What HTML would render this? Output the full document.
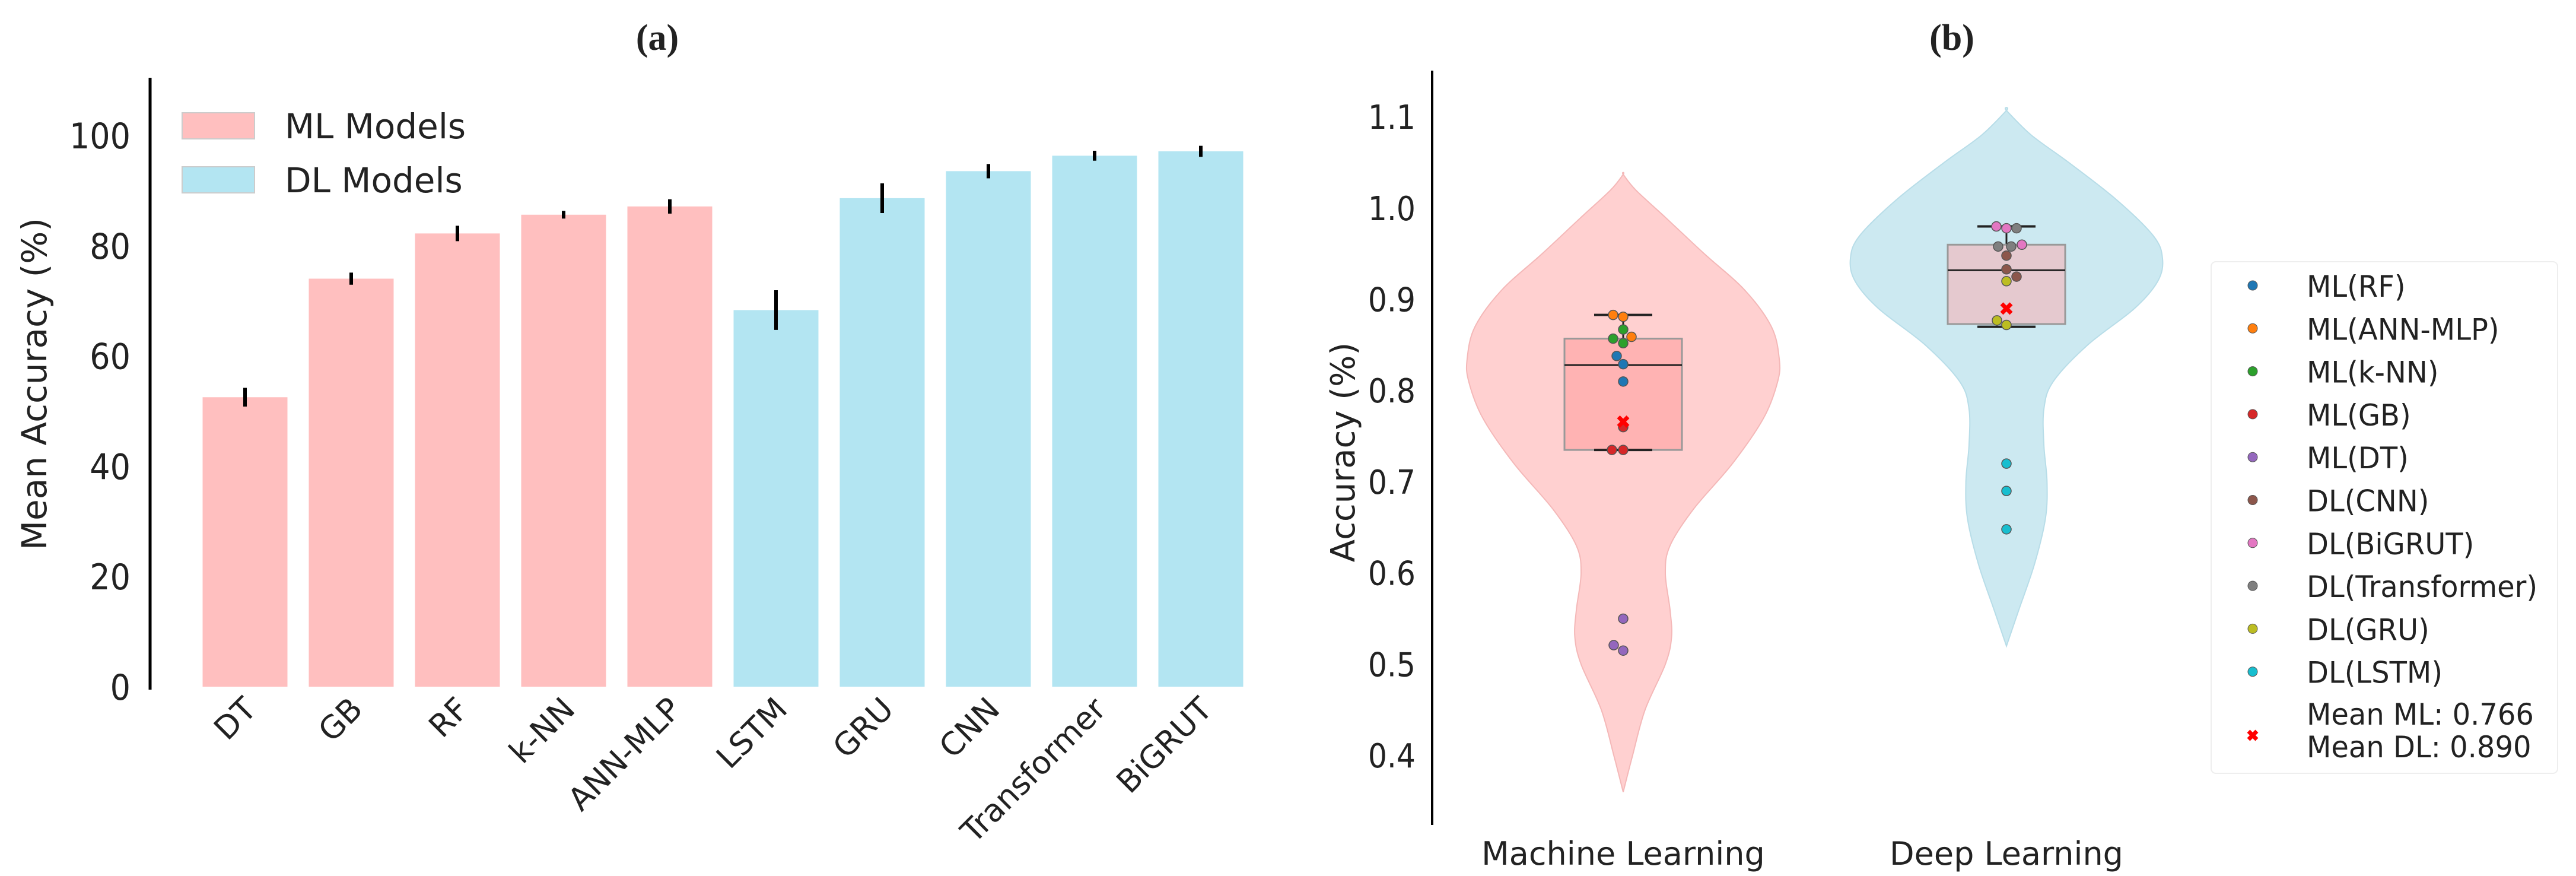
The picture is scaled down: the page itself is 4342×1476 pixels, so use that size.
<!DOCTYPE html>
<html><head><meta charset="utf-8"><style>
html,body{margin:0;padding:0;background:#fff}
svg{display:block}
text{font-family:"DejaVu Sans","Liberation Sans",sans-serif;fill:#222}
</style></head><body>
<svg id="fig" width="4342" height="1476" viewBox="0 0 4342 1476" xmlns="http://www.w3.org/2000/svg">
<g id="pa"></g>
<g id="pb"></g>
</svg>
<script>
// ---- Panel (a) data ----
const barCats=["DT","GB","RF","k-NN","ANN-MLP","LSTM","GRU","CNN","Transformer","BiGRUT"];
const barVals=[52.5,74,82.2,85.6,87.1,68.3,88.6,93.5,96.3,97.1];
const barErrs=[1.7,1.1,1.4,0.7,1.3,3.6,2.7,1.3,0.9,1.0];
const barGroup=["ML","ML","ML","ML","ML","DL","DL","DL","DL","DL"];
const aTicks=[0,20,40,60,80,100];
// ---- Panel (b) data ----
const vGroups=["Machine Learning","Deep Learning"];
const vMeans=[0.766,0.890];
const boxQ1=[0.735,0.873], boxQ3=[0.857,0.960], boxMed=[0.828,0.932];
const whiskLo=[0.735,0.870], whiskHi=[0.883,0.980];
const bTicks=[0.4,0.5,0.6,0.7,0.8,0.9,1.0,1.1];
// violin profiles: [value, relative half-width]
const violinML=[[0.36,0],[0.40,0.06],[0.45,0.14],[0.50,0.27],[0.53,0.31],[0.56,0.30],[0.60,0.27],[0.63,0.3],[0.67,0.45],[0.72,0.7],[0.77,0.9],[0.81,0.99],[0.835,1.0],[0.87,0.95],[0.91,0.78],[0.95,0.52],[0.99,0.27],[1.02,0.08],[1.037,0]];
const violinDL=[[0.52,0],[0.56,0.08],[0.61,0.18],[0.66,0.25],[0.70,0.26],[0.74,0.24],[0.78,0.24],[0.81,0.3],[0.85,0.52],[0.89,0.82],[0.92,0.97],[0.945,1.0],[0.97,0.94],[1.01,0.7],[1.05,0.4],[1.08,0.16],[1.107,0]];
const ptSeries=["ML(RF)","ML(ANN-MLP)","ML(k-NN)","ML(GB)","ML(DT)","DL(CNN)","DL(BiGRUT)","DL(Transformer)","DL(GRU)","DL(LSTM)"];
const ptColors=["#1f77b4","#ff7f0e","#2ca02c","#d62728","#9467bd","#8c564b","#e377c2","#7f7f7f","#bcbd22","#17becf"];
const ptGroupIdx=[0,0,0,0,0,1,1,1,1,1];
const ptVals=[[0.838,0.829,0.810],[0.883,0.881,0.859],[0.867,0.857,0.852],[0.735,0.735,0.760],[0.550,0.521,0.515],[0.948,0.933,0.925],[0.980,0.978,0.960],[0.978,0.958,0.958],[0.920,0.877,0.872],[0.720,0.690,0.648]];
const ptJit=[[-11,0,0],[-17,0,14],[0,-17,0],[-19,0,0],[0,-16,0],[0,0,17],[-17,0,26],[17,-14,8],[0,-16,0],[0,0,0]];

const NS="http://www.w3.org/2000/svg";
function mk(parent,tag,attrs,txt){const e=document.createElementNS(NS,tag);for(const k in attrs)e.setAttribute(k,attrs[k]);if(txt!==undefined)e.textContent=txt;parent.appendChild(e);return e;}

// ===== Panel A =====
const pa=document.getElementById('pa');
const aY=v=>1157-v*9.29;
const aX=i=>413+i*179;
const bw=143;
let t=mk(pa,'text',{x:1108,y:84,'text-anchor':'middle','font-size':62,'font-weight':'bold',style:'font-family:"Liberation Serif",serif'},'(a)');

barVals.forEach((v,i)=>{
  const r=mk(pa,'rect',{x:aX(i)-bw/2,y:aY(v),width:bw,height:aY(0)-aY(v),fill:barGroup[i]==="ML"?"#ffbfbf":"#b3e5f2"});
  
  const e=mk(pa,'line',{x1:aX(i),x2:aX(i),y1:aY(v-barErrs[i]),y2:aY(v+barErrs[i]),stroke:'#000','stroke-width':6});
  
  const lt=mk(pa,'text',{transform:`translate(${aX(i)+22},${1198}) rotate(-45)`,'text-anchor':'end','font-size':53},barCats[i]);
  
});
let ax=mk(pa,'line',{x1:253,x2:253,y1:131,y2:1162,stroke:'#000','stroke-width':5});

aTicks.forEach(v=>{const tt=mk(pa,'text',{transform:`translate(220,${aY(v)+22}) scale(0.9,1)`,'text-anchor':'end','font-size':60},String(v));
});
t=mk(pa,'text',{transform:'translate(78,647) rotate(-90)','text-anchor':'middle','font-size':58},'Mean Accuracy (%)');

[["ML Models","#ffbfbf",190],["DL Models","#b3e5f2",281]].forEach(([n,c,y])=>{
  const r=mk(pa,'rect',{x:307,y:y,width:122,height:44,fill:c,stroke:'#ccc','stroke-width':2});
  
  const tx=mk(pa,'text',{transform:`translate(480,${y+43})`,'font-size':58},n);
  
});

// ===== Panel B =====
const pb=document.getElementById('pb');
const bY=v=>1273-(v-0.4)*1537;
const bX=[2736,3382];
const vHalf=263;
t=mk(pb,'text',{x:3290,y:84,'text-anchor':'middle','font-size':62,'font-weight':'bold',style:'font-family:"Liberation Serif",serif'},'(b)');

function violinPath(prof,cx){
  const right=prof.map(([v,w])=>[cx+w*vHalf,bY(v)]);
  const left=prof.slice().reverse().map(([v,w])=>[cx-w*vHalf,bY(v)]);
  const pts=right.concat(left);
  let d=`M${pts[0][0]},${pts[0][1]}`;
  for(let i=0;i<pts.length-1;i++){
    const p0=pts[Math.max(0,i-1)],p1=pts[i],p2=pts[i+1],p3=pts[Math.min(pts.length-1,i+2)];
    const c1=[p1[0]+(p2[0]-p0[0])/6,p1[1]+(p2[1]-p0[1])/6],c2=[p2[0]-(p3[0]-p1[0])/6,p2[1]-(p3[1]-p1[1])/6];
    d+=`C${c1[0]},${c1[1]} ${c2[0]},${c2[1]} ${p2[0]},${p2[1]}`;
  }
  return d+'Z';
}
[[violinML,"#ffd0d0","#f4b8b8"],[violinDL,"#cce9f1","#b8dde8"]].forEach(([p,f,s],g)=>{
  const v=mk(pb,'path',{d:violinPath(p,bX[g]),fill:f,stroke:s,'stroke-width':2});
  
});
const boxFill=["#ffb3b3","#e5c9cf"];
vGroups.forEach((n,g)=>{
  const cx=bX[g];
  const w=mk(pb,'line',{x1:cx,x2:cx,y1:bY(whiskLo[g]),y2:bY(whiskHi[g]),stroke:'#222','stroke-width':3});
  
  const b=mk(pb,'rect',{x:cx-99,y:bY(boxQ3[g]),width:198,height:bY(boxQ1[g])-bY(boxQ3[g]),fill:boxFill[g],stroke:'#999','stroke-width':3});
  
  const m=mk(pb,'line',{x1:cx-99,x2:cx+99,y1:bY(boxMed[g]),y2:bY(boxMed[g]),stroke:'#222','stroke-width':3});
  
  [whiskLo[g],whiskHi[g]].forEach(v=>{const c=mk(pb,'line',{x1:cx-49,x2:cx+49,y1:bY(v),y2:bY(v),stroke:'#222','stroke-width':4});
  });
  const xl=mk(pb,'text',{transform:`translate(${cx},1457)`,'text-anchor':'middle','font-size':54},n);
  
});
ptVals.forEach((vals,s)=>{
  const g=ptGroupIdx[s];
  vals.forEach((v,k)=>{
    const c=mk(pb,'circle',{cx:bX[g]+ptJit[s][k],cy:bY(v),r:8,fill:ptColors[s],stroke:'#555','stroke-width':1.5});
    
  });
});
function cross(parent,x,y,s){const p=mk(parent,'path',{d:`M${x-s},${y-s}L${x+s},${y+s}M${x-s},${y+s}L${x+s},${y-s}`,stroke:'#f00','stroke-width':7});return p;}
vMeans.forEach((v,g)=>{const c=cross(pb,bX[g],bY(v),8);});
ax=mk(pb,'line',{x1:2414,x2:2414,y1:119,y2:1390,stroke:'#000','stroke-width':4});

bTicks.forEach(v=>{const tt=mk(pb,'text',{transform:`translate(2386,${bY(v)+20}) scale(0.9,1)`,'text-anchor':'end','font-size':56},v.toFixed(1));
});
t=mk(pb,'text',{transform:'translate(2283,762) rotate(-90)','text-anchor':'middle','font-size':56},'Accuracy (%)');

const lg=mk(pb,'g',{});

mk(lg,'rect',{x:3727,y:441,width:584,height:862,rx:8,fill:'#fff',stroke:'#eee','stroke-width':2});
ptSeries.forEach((n,s)=>{
  const y=481+s*72.3;
  const c=mk(lg,'circle',{cx:3797,cy:y,r:8,fill:ptColors[s],stroke:'#555','stroke-width':1});
  
  const tx=mk(lg,'text',{transform:`translate(3888,${y+19}) scale(0.96,1)`,'font-size':50},n);
  
});
const lc=cross(lg,3797,1239,7);
[["Mean ML: "+vMeans[0].toFixed(3),1221],["Mean DL: "+vMeans[1].toFixed(3),1276]].forEach(([s,y])=>{
  const tx=mk(lg,'text',{transform:`translate(3888,${y}) scale(0.96,1)`,'font-size':50},s);
  
});
</script>
</body></html>
